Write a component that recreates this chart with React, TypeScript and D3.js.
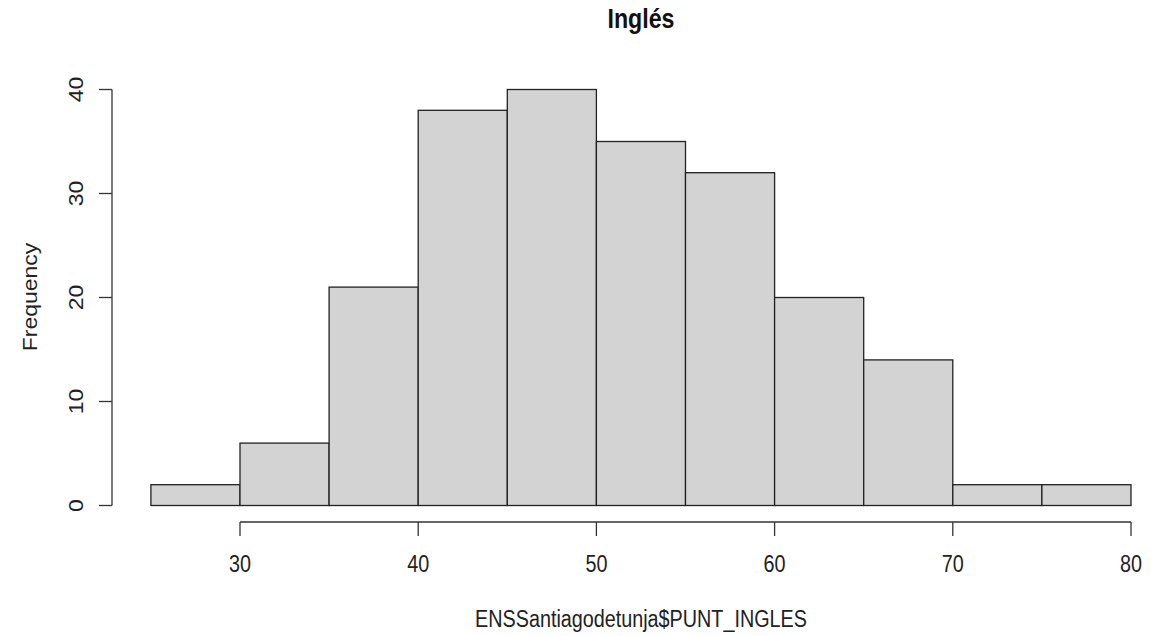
import * as d3 from 'd3';
import React from 'react';

// histogram of PUNT_INGLES
const breaks = [25, 30, 35, 40, 45, 50, 55, 60, 65, 70, 75, 80];
const counts = [2, 6, 21, 38, 40, 35, 32, 20, 14, 2, 2];
const xTicks = [30, 40, 50, 60, 70, 80];
const yTicks = [0, 10, 20, 30, 40];

const title = 'Inglés';
const xLabel = 'ENSSantiagodetunja$PUNT_INGLES';
const yLabel = 'Frequency';

const W = 1166;
const H = 636;
const SX = 0.86; // picture is squeezed horizontally
const FONT = '"Liberation Sans", Arial, sans-serif';
const INK = '#333';

const App: React.FC = () => {
  const x = d3.scaleLinear().domain([30, 80]).range([240, 1131]);
  const y = d3.scaleLinear().domain([0, 40]).range([505.5, 89.5]);

  const bins = counts.map((c, i) => ({ x0: breaks[i], x1: breaks[i + 1], c }));
  const axisY = 522;
  const axisX = 112;

  return (
    <div style={{ position: 'absolute', left: 0, top: 0 }}>
      <svg width={W} height={H} style={{ display: 'block', background: '#fff' }} fontFamily={FONT}>
        {/* bars */}
        {bins.map((b, i) => (
          <rect
            key={i}
            x={x(b.x0)}
            y={y(b.c)}
            width={x(b.x1) - x(b.x0)}
            height={y(0) - y(b.c)}
            fill="#d3d3d3"
            stroke="#222"
            strokeWidth={1.3}
          />
        ))}

        {/* x axis */}
        <line x1={x(xTicks[0])} x2={x(xTicks[xTicks.length - 1])} y1={axisY} y2={axisY} stroke={INK} strokeWidth={1.3} />
        {xTicks.map(t => (
          <g key={t}>
            <line x1={x(t)} x2={x(t)} y1={axisY} y2={axisY + 14} stroke={INK} strokeWidth={1.3} />
            <text
              transform={`translate(${x(t)},571.5) scale(${SX},1)`}
              textAnchor="middle"
              fontSize={23}
              fill="#222"
            >
              {t}
            </text>
          </g>
        ))}

        {/* y axis */}
        <line x1={axisX} x2={axisX} y1={y(yTicks[0])} y2={y(yTicks[yTicks.length - 1])} stroke={INK} strokeWidth={1.3} />
        {yTicks.map(t => (
          <g key={t}>
            <line x1={axisX} x2={axisX - 13} y1={y(t)} y2={y(t)} stroke={INK} strokeWidth={1.3} />
            <text
              transform={`translate(83,${y(t)}) scale(${SX},1) rotate(-90)`}
              textAnchor="middle"
              fontSize={23}
              fill="#222"
            >
              {t}
            </text>
          </g>
        ))}

        {/* labels */}
        <text
          transform={`translate(641,27.5) scale(${SX},1)`}
          textAnchor="middle"
          fontSize={27}
          fontWeight="bold"
          fill="#111"
        >
          {title}
        </text>
        <text
          transform={`translate(641,627.3) scale(${SX},1)`}
          textAnchor="middle"
          fontSize={23}
          fill="#222"
        >
          {xLabel}
        </text>
        <text
          transform={`translate(36.7,297) scale(${SX},1) rotate(-90)`}
          textAnchor="middle"
          fontSize={23}
          fill="#222"
        >
          {yLabel}
        </text>
      </svg>
    </div>
  );
};

export default App;
